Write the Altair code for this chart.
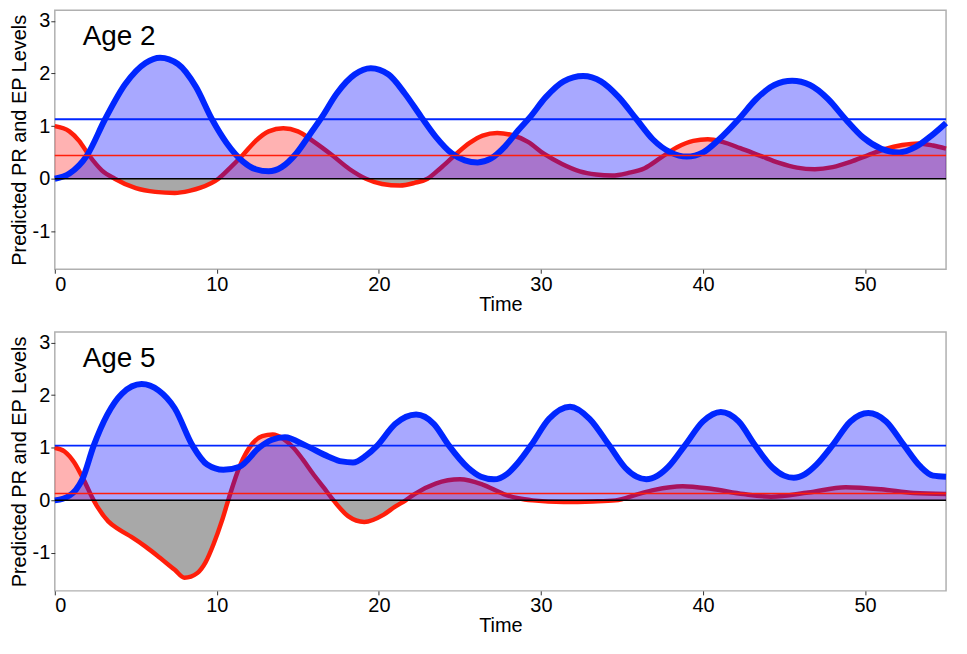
import altair as alt
import pandas as pd

FONT = "Liberation Sans"

panel_labels = ["Age 2", "Age 5"]
x_ticks = [0, 10, 20, 30, 40, 50]
y_ticks = [-1, 0, 1, 2, 3]

# ---- Age 2 ----
a2_blue_t = [0, 0.9, 2.0, 3.1, 4.35, 5.6, 6.5, 7.6, 8.7, 9.7, 10.6, 11.6, 12.4, 13.2, 14.0, 14.9,
             15.8, 16.5, 17.4, 18.5, 19.5, 20.6, 21.6, 22.6, 23.5, 24.5, 25.3, 26.1, 26.9, 27.8,
             28.6, 29.3, 30.3, 31.4, 32.6, 33.7, 34.8, 35.9, 36.9, 38.0, 39.0, 40.0, 41.0, 42.2,
             43.3, 44.4, 45.5, 46.6, 47.7, 48.8, 49.9, 51.0, 52.1, 53.1, 54.1, 55.0]
a2_blue_v = [0.0, 0.1, 0.45, 1.13, 1.8, 2.2, 2.3, 2.18, 1.75, 1.13, 0.68, 0.33, 0.18, 0.14, 0.22, 0.48,
             0.87, 1.18, 1.62, 1.98, 2.1, 1.98, 1.62, 1.18, 0.8, 0.48, 0.35, 0.31, 0.38, 0.62,
             0.92, 1.16, 1.55, 1.85, 1.95, 1.85, 1.55, 1.13, 0.75, 0.5, 0.42, 0.5, 0.75, 1.13,
             1.52, 1.78, 1.86, 1.78, 1.52, 1.13, 0.78, 0.57, 0.5, 0.6, 0.82, 1.06]
a2_red_t = [0, 0.9, 1.5, 2.1, 2.9, 3.7, 5.0, 6.2, 7.4, 8.3, 9.0, 10.1, 10.8, 11.6, 12.4, 13.2, 14.1,
            15.0, 16.0, 17.1, 18.2, 19.2, 20.2, 21.3, 22.2, 23.0, 23.8, 24.7, 25.6, 26.4, 27.3,
            28.2, 29.2, 30.2, 31.3, 32.4, 33.4, 34.4, 35.4, 36.4, 37.4, 38.4, 39.4, 40.3, 41.2,
            42.3, 43.5, 44.7, 45.8, 46.9, 48.0, 49.1, 50.2, 51.2, 52.3, 53.3, 54.2, 55.0]
a2_red_v = [1.0, 0.9, 0.72, 0.45, 0.16, 0.0, -0.18, -0.25, -0.27, -0.23, -0.17, 0.0, 0.2, 0.45, 0.72, 0.9, 0.96,
            0.9, 0.7, 0.45, 0.18, 0.0, -0.1, -0.13, -0.08, 0.0, 0.2, 0.45, 0.68, 0.82, 0.87,
            0.83, 0.7, 0.47, 0.28, 0.14, 0.08, 0.06, 0.11, 0.2, 0.4, 0.6, 0.72, 0.75, 0.7,
            0.58, 0.44, 0.3, 0.21, 0.18, 0.22, 0.32, 0.45, 0.56, 0.64, 0.67, 0.63, 0.57]
a2_blue_mean = 1.13
a2_red_mean = 0.44

# ---- Age 5 ----
a5_blue_t = [0, 0.5, 0.9, 1.3, 1.7, 2.4, 3.24, 4.15, 5.36, 6.4, 7.4, 8.5, 9.4, 10.4, 11.4, 12.65,
             13.4, 14.2, 15.5, 16.9, 17.7, 18.4, 19.2, 19.9, 21.0, 22.3, 23.4, 24.3, 25.5, 26.3,
             27.1, 27.9, 28.6, 29.4, 30.5, 31.8, 33.0, 34.2, 35.2, 35.9, 36.5, 37.2, 37.9, 38.9,
             40.0, 41.1, 42.2, 43.2, 44.3, 45.0, 45.6, 46.3, 47.0, 48.0, 49.1, 50.2, 51.3, 52.4,
             53.4, 54.2, 55.0]
a5_blue_v = [0.0, 0.03, 0.09, 0.2, 0.4, 1.04, 1.63, 2.03, 2.21, 2.09, 1.75, 1.04, 0.68, 0.58, 0.64, 1.01,
             1.15, 1.2, 1.04, 0.83, 0.74, 0.72, 0.85, 1.04, 1.45, 1.63, 1.45, 1.05, 0.62, 0.45,
             0.4, 0.5, 0.72, 1.05, 1.55, 1.78, 1.55, 1.05, 0.62, 0.45, 0.4, 0.47, 0.65, 1.05,
             1.5, 1.68, 1.5, 1.05, 0.62, 0.47, 0.43, 0.5, 0.68, 1.05, 1.5, 1.66, 1.5, 1.05,
             0.65, 0.47, 0.45]
a5_red_t = [0, 0.6, 1.2, 1.8, 2.4, 3.3, 4.0, 4.75, 5.6, 6.4, 7.4, 8.0, 8.8, 9.3, 9.8, 10.3, 10.7,
            11.4, 12.2, 12.8, 13.45, 14.1, 14.7, 15.3, 15.9, 16.6, 17.2, 18.1, 19.1, 20.3, 21.0,
            21.65, 22.2, 23.5, 25.0, 26.4, 27.7, 28.6, 29.5, 31.4, 33.2, 34.6, 36.0, 37.0, 38.75,
            40.5, 42.5, 44.2, 46.5, 48.8, 51.0, 53.0, 55.0]
a5_red_v = [1.0, 0.93, 0.72, 0.38, 0.0, -0.4, -0.56, -0.7, -0.88, -1.07, -1.32, -1.47, -1.38, -1.18, -0.83, -0.4, 0.0,
            0.64, 1.08, 1.22, 1.25, 1.17, 1.01, 0.78, 0.52, 0.24, 0.0, -0.3, -0.41, -0.27, -0.12,
            0.0, 0.12, 0.32, 0.4, 0.3, 0.12, 0.04, 0.0, -0.03, -0.02, 0.0, 0.12, 0.2, 0.27,
            0.22, 0.12, 0.07, 0.15, 0.25, 0.21, 0.14, 0.12]
a5_blue_mean = 1.04
a5_red_mean = 0.13

BLUE = "#0026FF"
RED = "#FF1E0A"

xs = alt.Scale(domain=[0, 55], nice=False, zero=False)
ys = alt.Scale(domain=[-1.72, 3.2], nice=False, zero=False)
x_axis = alt.Axis(values=x_ticks, title="Time", labelExpr="'' + datum.value")
y_axis = alt.Axis(values=y_ticks, title="Predicted PR and EP Levels", labelExpr="'' + datum.value")


def panel(label, bt, bv, rt, rv, bmean, rmean):
    blue = pd.DataFrame({"t": bt, "v": bv})
    red = pd.DataFrame({"t": rt, "v": rv})
    X = alt.X("t:Q", scale=xs, axis=x_axis)

    red_fill = alt.Chart(red).transform_calculate(p="max(datum.v, 0)", z="0").mark_area(
        color="#FF0000", opacity=0.3, interpolate="monotone"
    ).encode(x=X, y=alt.Y("p:Q", scale=ys, axis=y_axis), y2="z:Q")

    gray_fill = alt.Chart(red).transform_calculate(n="min(datum.v, 0)", z="0").mark_area(
        color="#A8A8A8", opacity=1, interpolate="monotone"
    ).encode(x=X, y=alt.Y("n:Q", scale=ys, axis=y_axis), y2="z:Q")

    red_line = alt.Chart(red).mark_line(color=RED, strokeWidth=4.5, interpolate="monotone").encode(
        x=X, y=alt.Y("v:Q", scale=ys, axis=y_axis)
    )

    blue_fill = alt.Chart(blue).transform_calculate(z="0").mark_area(
        color="#0000FF", opacity=0.34, interpolate="monotone"
    ).encode(x=X, y=alt.Y("v:Q", scale=ys, axis=y_axis), y2="z:Q")

    blue_line = alt.Chart(blue).mark_line(color=BLUE, strokeWidth=6, interpolate="monotone").encode(
        x=X, y=alt.Y("v:Q", scale=ys, axis=y_axis)
    )

    zero = alt.Chart(pd.DataFrame({"v": [0]})).mark_rule(color="black", strokeWidth=1.5).encode(
        y=alt.Y("v:Q", scale=ys, axis=y_axis)
    )
    bm = alt.Chart(pd.DataFrame({"v": [bmean]})).mark_rule(color=BLUE, strokeWidth=1.8).encode(
        y=alt.Y("v:Q", scale=ys, axis=y_axis)
    )
    rm = alt.Chart(pd.DataFrame({"v": [rmean]})).mark_rule(color=RED, strokeWidth=1.6).encode(
        y=alt.Y("v:Q", scale=ys, axis=y_axis)
    )
    txt = alt.Chart(pd.DataFrame({"label": [label]})).mark_text(
        align="left", baseline="alphabetic", fontSize=28, font=FONT, color="black"
    ).encode(x=alt.value(28), y=alt.value(35), text="label:N")

    return alt.layer(red_fill, gray_fill, red_line, blue_fill, blue_line, zero, bm, rm, txt).properties(
        width=895, height=260
    )


top = panel(panel_labels[0], a2_blue_t, a2_blue_v, a2_red_t, a2_red_v, a2_blue_mean, a2_red_mean)
bottom = panel(panel_labels[1], a5_blue_t, a5_blue_v, a5_red_t, a5_red_v, a5_blue_mean, a5_red_mean)

chart = alt.vconcat(top, bottom, spacing=16).properties(
    padding={"left": 0, "top": 0, "right": 0, "bottom": 0}
).configure_view(
    stroke="#B0B0B0", strokeWidth=1.5
).configure_axis(
    domain=False, grid=False, tickColor="#333333", tickSize=4, tickWidth=1,
    labelFont=FONT, titleFont=FONT, labelFontSize=20, titleFontSize=20,
    labelColor="black", titleColor="black", titleFontWeight="normal", labelPadding=1,
).configure_axisY(titlePadding=3).configure_axisX(titlePadding=0)

chart.save("out.html", embed_options={"renderer": "svg", "actions": False})
